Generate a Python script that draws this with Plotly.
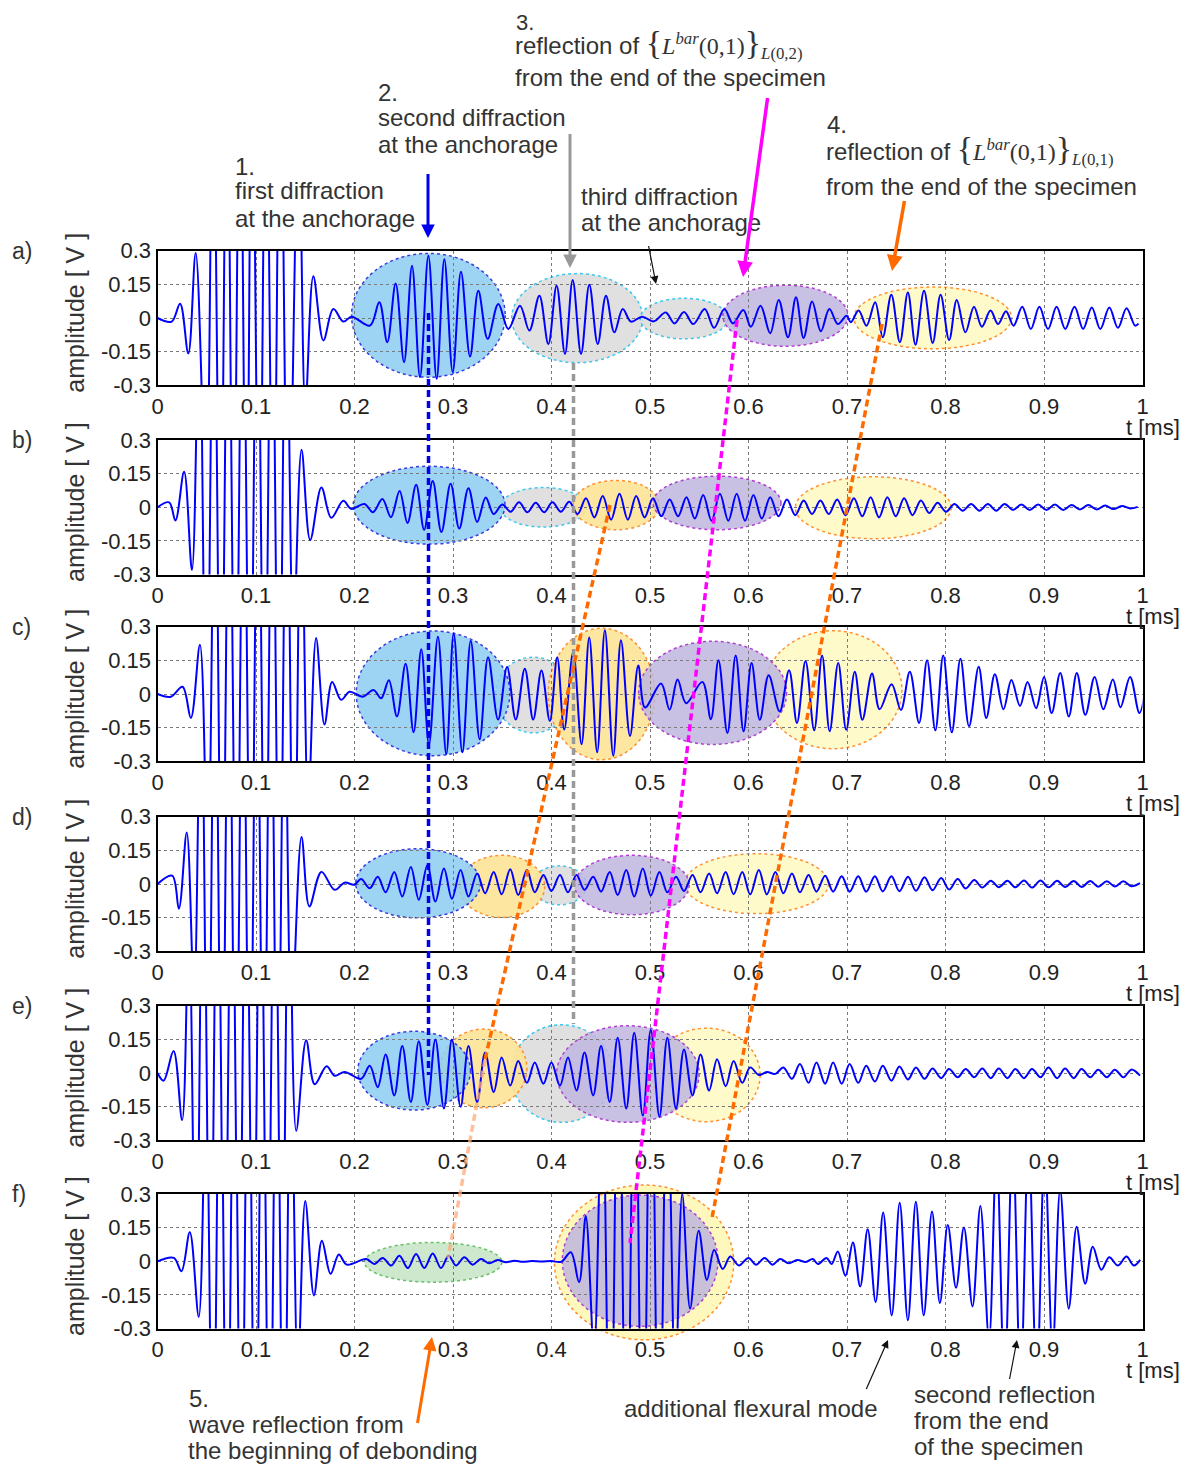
import plotly.graph_objects as go

# ------------------------------------------------------------------ data
# extrema (time in ms, amplitude in V)
t_a = [0.0, 0.0144, 0.0229, 0.0313, 0.0388,
       0.0493, 0.0564, 0.0638, 0.0706, 0.0770, 0.0838, 0.0902, 0.0960, 0.1034, 0.1102, 0.1176, 0.1247, 0.1328, 0.1433, 0.1501,
       0.1582, 0.1684, 0.1785, 0.1887, 0.1971, 0.2157, 0.2252, 0.2333, 0.2418, 0.2503, 0.2584, 0.2665, 0.2750, 0.2834,
       0.2912, 0.2997, 0.3081, 0.3173, 0.3257, 0.3352, 0.3460, 0.3562, 0.3680, 0.3775, 0.3877, 0.3968, 0.4052, 0.4137,
       0.4215, 0.4300, 0.4384, 0.4469, 0.4553, 0.4638, 0.4723, 0.4807, 0.4920, 0.5038, 0.5160, 0.5248, 0.5345, 0.5440,
       0.5555, 0.5650, 0.5755, 0.5842, 0.5947, 0.6024, 0.6122, 0.6220, 0.6307, 0.6401, 0.6482, 0.6559, 0.6646, 0.6734,
       0.6821, 0.6908, 0.6996, 0.7038, 0.7118, 0.7198, 0.7286, 0.7363, 0.7450, 0.7537, 0.7618, 0.7695, 0.7782, 0.7870,
       0.7950, 0.8037, 0.8114, 0.8202, 0.8289, 0.8369, 0.8457, 0.8534, 0.8614, 0.8691, 0.8779, 0.8866, 0.8953, 0.9041,
       0.9128, 0.9216, 0.9310, 0.9397, 0.9485, 0.9572, 0.9663, 0.9751, 0.9838, 0.9925, 0.9960]
v_a = [0.0, -0.016, 0.064, -0.158, 0.29,
       -0.8, 1.1, -1.2, 1.2, -1.2, 1.2, -1.2, 1.2, -1.2, 1.2, -1.2, 1.2, -1.1, 0.9, -0.4,
       0.186, -0.100, 0.040, -0.016, 0.006, -0.034, 0.070, -0.108, 0.154, -0.197, 0.233, -0.264, 0.277, -0.271,
       0.262, -0.241, 0.206, -0.172, 0.121, -0.093, 0.062, -0.049, 0.055, -0.056, 0.099, -0.116, 0.144, -0.160,
       0.169, -0.160, 0.148, -0.116, 0.099, -0.064, 0.040, -0.016, 0.006, -0.015, 0.025, -0.024, 0.027, -0.027,
       0.040, -0.044, 0.040, -0.024, 0.036, -0.039, 0.055, -0.068, 0.080, -0.086, 0.092, -0.089, 0.073, -0.059,
       0.040, -0.027, 0.010, -0.019, 0.033, -0.034, 0.070, -0.086, 0.104, -0.108, 0.114, -0.119, 0.121, -0.111,
       0.104, -0.098, 0.080, -0.064, 0.050, -0.039, 0.033, -0.027, 0.030, -0.034, 0.050, -0.049, 0.050, -0.049,
       0.050, -0.049, 0.050, -0.049, 0.047, -0.049, 0.047, -0.044, 0.043, -0.034, -0.025]

t_b = [0.0, 0.0118, 0.0182, 0.027, 0.035,
       0.0424, 0.0497, 0.0571, 0.0644, 0.0718, 0.0791, 0.0865, 0.0939, 0.1012, 0.1086, 0.1159, 0.1233, 0.1306, 0.138,
       0.1462, 0.155, 0.1664, 0.1764, 0.1886, 0.1966, 0.2101, 0.2188, 0.2283, 0.237, 0.2458, 0.2538, 0.2626, 0.2707,
       0.2794, 0.2882, 0.2976, 0.3063, 0.3157, 0.3245, 0.3332, 0.3413, 0.35, 0.3585, 0.367, 0.3755, 0.384, 0.3925,
       0.401, 0.4095, 0.418, 0.4265, 0.435, 0.4435, 0.452, 0.4605, 0.469, 0.4775, 0.486, 0.4945, 0.503, 0.5115,
       0.52, 0.5285, 0.537, 0.5455, 0.554, 0.5625, 0.571, 0.5795, 0.588, 0.5965, 0.605, 0.6135, 0.622, 0.6305,
       0.639, 0.6475, 0.656, 0.6645, 0.673, 0.6815, 0.69, 0.6985, 0.707, 0.7155, 0.724, 0.7325, 0.741, 0.7495,
       0.758, 0.7665, 0.775, 0.7835, 0.792, 0.8005, 0.809, 0.8175, 0.826, 0.8345, 0.843, 0.8515, 0.86, 0.8685,
       0.877, 0.8855, 0.894, 0.9025, 0.911, 0.9195, 0.928, 0.9365, 0.945, 0.9535, 0.962, 0.9705, 0.979, 0.9875, 0.995]
v_b = [0.0, 0.022, -0.059, 0.158, -0.28,
       0.9, -1.2, 1.2, -1.2, 1.2, -1.2, 1.2, -1.2, 1.2, -1.2, 1.2, -1.2, 1.1, -0.6,
       0.256, -0.146, 0.088, -0.047, 0.029, -0.007, 0.015, -0.022, 0.037, -0.044, 0.073, -0.07, 0.1, -0.1,
       0.117, -0.11, 0.105, -0.095, 0.085, -0.066, 0.044, -0.03, 0.012, -0.02, 0.022, -0.022, 0.02, -0.022,
       0.022, -0.02, 0.025, -0.03, 0.04, -0.045, 0.05, -0.055, 0.06, -0.055, 0.05, -0.045, 0.04, -0.04,
       0.035, -0.04, 0.045, -0.05, 0.055, -0.06, 0.06, -0.06, 0.06, -0.06, 0.055, -0.05, 0.045, -0.04,
       0.035, -0.035, 0.03, -0.03, 0.03, -0.03, 0.035, -0.035, 0.04, -0.04, 0.045, -0.045, 0.045, -0.04,
       0.04, -0.035, 0.03, -0.025, 0.02, -0.02, 0.015, -0.015, 0.015, -0.015, 0.015, -0.015, 0.015, -0.012,
       0.012, -0.012, 0.012, -0.012, 0.012, -0.012, 0.01, -0.01, 0.01, -0.01, 0.008, -0.008, 0.006, -0.005, 0.002]

t_c = [0.0, 0.0136, 0.0254, 0.0339, 0.0431,
       0.051, 0.0583, 0.0656, 0.0729, 0.0802, 0.0875, 0.0948, 0.1021, 0.1094, 0.1166, 0.1239, 0.1312, 0.1385, 0.1458, 0.153,
       0.161, 0.1695, 0.1773, 0.1864, 0.195, 0.2085, 0.2193, 0.2271, 0.2349, 0.2431, 0.2519, 0.26, 0.2678, 0.2756,
       0.2847, 0.2932, 0.3007, 0.3095, 0.318, 0.3271, 0.3356, 0.3458, 0.3549, 0.3637, 0.3729, 0.3814, 0.3898, 0.3983,
       0.4058, 0.4129, 0.422, 0.4305, 0.4383, 0.4464, 0.4542, 0.4627, 0.4705, 0.4797, 0.4881, 0.495, 0.5112, 0.5199,
       0.528, 0.5367, 0.5531, 0.5618, 0.5695, 0.5786, 0.587, 0.595, 0.6031, 0.6115, 0.6205, 0.6317, 0.6412, 0.6492,
       0.6579, 0.6667, 0.6747, 0.6824, 0.6911, 0.6992, 0.7079, 0.7156, 0.7254, 0.7331, 0.7453, 0.7547, 0.7638, 0.7732,
       0.7813, 0.7897, 0.7977, 0.8064, 0.8152, 0.8239, 0.8337, 0.8414, 0.8501, 0.8588, 0.8669, 0.8756, 0.8833, 0.892,
       0.9001, 0.9078, 0.9165, 0.9252, 0.9333, 0.942, 0.9514, 0.9602, 0.9699, 0.9776, 0.9874, 0.9969, 1.005]
v_c = [0.0, -0.012, 0.032, -0.107, 0.22,
       -0.8, 1.1, -1.2, 1.2, -1.2, 1.2, -1.2, 1.2, -1.2, 1.2, -1.2, 1.2, -1.2, 1.0, -0.5,
       0.25, -0.136, 0.054, -0.026, 0.01, -0.012, 0.018, -0.019, 0.061, -0.1, 0.135, -0.17, 0.2, -0.224,
       0.255, -0.268, 0.27, -0.26, 0.237, -0.202, 0.164, -0.114, 0.12, -0.114, 0.113, -0.114, 0.105, -0.12,
       0.164, -0.158, 0.186, -0.224, 0.252, -0.26, 0.284, -0.275, 0.24, -0.187, 0.127, -0.06, 0.047, -0.07,
       0.065, -0.041, 0.054, -0.112, 0.15, -0.174, 0.172, -0.166, 0.138, -0.115, 0.084, -0.078, 0.106, -0.129,
       0.147, -0.162, 0.172, -0.166, 0.138, -0.159, 0.099, -0.115, 0.091, -0.068, 0.044, -0.071, 0.099, -0.129,
       0.15, -0.162, 0.172, -0.171, 0.157, -0.144, 0.121, -0.107, 0.088, -0.068, 0.062, -0.053, 0.054, -0.063,
       0.076, -0.085, 0.094, -0.1, 0.094, -0.093, 0.076, -0.068, 0.065, -0.059, 0.076, -0.085, 0.091]

t_d = [0.0, 0.0149, 0.0217, 0.0297, 0.0371,
       0.0442, 0.0512, 0.0583, 0.0654, 0.0724, 0.0795, 0.0866, 0.0937, 0.1007, 0.1078, 0.1149, 0.1219, 0.129, 0.1361,
       0.1462, 0.1542, 0.1664, 0.1798, 0.1899, 0.2, 0.2067, 0.2155, 0.2236, 0.2316, 0.2404, 0.2485, 0.2572, 0.2653,
       0.274, 0.2821, 0.2908, 0.2989, 0.3077, 0.3157, 0.3245, 0.3326, 0.3413, 0.3494, 0.3581, 0.3662, 0.375, 0.383,
       0.3918, 0.3999, 0.4086, 0.4167, 0.4254, 0.4335, 0.4423, 0.4503, 0.4591, 0.4672, 0.4759, 0.484, 0.4927, 0.5008,
       0.5096, 0.5176, 0.5264, 0.5345, 0.5432, 0.5513, 0.56, 0.5681, 0.5768, 0.5849, 0.5937, 0.6017, 0.6105, 0.6186,
       0.6273, 0.6354, 0.6441, 0.6522, 0.661, 0.669, 0.6778, 0.6859, 0.6946, 0.7027, 0.7114, 0.7195, 0.7283, 0.7363,
       0.7451, 0.7532, 0.7619, 0.77, 0.7787, 0.7868, 0.7956, 0.8036, 0.8124, 0.8205, 0.8292, 0.8373, 0.846, 0.8541,
       0.8629, 0.8709, 0.8797, 0.8878, 0.8965, 0.9046, 0.9133, 0.9214, 0.9302, 0.9382, 0.947, 0.955, 0.9638, 0.9719,
       0.9806, 0.9887, 0.9974]
v_d = [0.0, 0.037, -0.11, 0.23, -0.5,
       1.0, -1.2, 1.2, -1.2, 1.2, -1.2, 1.2, -1.2, 1.2, -1.2, 1.2, -1.2, 1.0, -0.6,
       0.209, -0.1, 0.054, -0.026, 0.006, -0.003, 0.022, -0.019, 0.032, -0.037, 0.054, -0.056, 0.076, -0.07,
       0.084, -0.078, 0.069, -0.066, 0.062, -0.056, 0.047, -0.041, 0.054, -0.046, 0.066, -0.049, 0.062, -0.037,
       0.04, -0.031, 0.04, -0.037, 0.04, -0.026, 0.032, -0.034, 0.054, -0.049, 0.062, -0.056, 0.069, -0.051,
       0.054, -0.037, 0.032, -0.031, 0.04, -0.037, 0.047, -0.041, 0.054, -0.046, 0.054, -0.046, 0.062, -0.046,
       0.054, -0.041, 0.047, -0.037, 0.04, -0.034, 0.037, -0.034, 0.035, -0.034, 0.035, -0.034, 0.035, -0.033,
       0.034, -0.032, 0.032, -0.03, 0.03, -0.028, 0.027, -0.025, 0.022, -0.02, 0.018, -0.016, 0.015, -0.014,
       0.014, -0.015, 0.016, -0.016, 0.016, -0.015, 0.014, -0.013, 0.013, -0.013, 0.013, -0.012, 0.012, -0.011,
       0.012, -0.01, 0.004]

t_e = [0.0, 0.0062, 0.0163, 0.025,
       0.0318, 0.0391, 0.0463, 0.0536, 0.0609, 0.0681, 0.0754, 0.0827, 0.0899, 0.0972, 0.1045, 0.1117, 0.119, 0.1263, 0.1335,
       0.1408, 0.1509, 0.1596, 0.1717, 0.1798, 0.19, 0.2067, 0.2155, 0.2236, 0.2316, 0.2404, 0.2485, 0.2572, 0.2653,
       0.274, 0.2821, 0.2908, 0.2989, 0.3077, 0.3157, 0.3245, 0.3326, 0.3413, 0.3494, 0.3581, 0.3662, 0.375, 0.383,
       0.3918, 0.3999, 0.4086, 0.4167, 0.4254, 0.4335, 0.4423, 0.4503, 0.4591, 0.4672, 0.4759, 0.484, 0.4927, 0.5008,
       0.5096, 0.5176, 0.5264, 0.5345, 0.5432, 0.5513, 0.56, 0.5681, 0.5768, 0.5849, 0.5937, 0.6017, 0.6105, 0.6186,
       0.6273, 0.6354, 0.6441, 0.6522, 0.661, 0.669, 0.6778, 0.6859, 0.6946, 0.7027, 0.7114, 0.7195, 0.7283, 0.7363,
       0.7451, 0.7532, 0.7619, 0.77, 0.7787, 0.7868, 0.7956, 0.8036, 0.8124, 0.8205, 0.8292, 0.8373, 0.846, 0.8541,
       0.8629, 0.8709, 0.8797, 0.8878, 0.8965, 0.9046, 0.9133, 0.9214, 0.9302, 0.9382, 0.947, 0.955, 0.9638, 0.9719,
       0.9806, 0.9887, 0.9974]
v_e = [0.0, -0.034, 0.098, -0.21,
       0.7, -1.1, 1.2, -1.2, 1.2, -1.2, 1.2, -1.2, 1.2, -1.2, 1.2, -1.2, 1.2, -1.2, 1.0,
       -0.258, 0.146, -0.05, 0.03, -0.012, 0.005, -0.026, 0.032, -0.063, 0.083, -0.1, 0.12, -0.129, 0.142,
       -0.143, 0.149, -0.158, 0.149, -0.151, 0.12, -0.129, 0.091, -0.085, 0.069, -0.056, 0.054, -0.044, 0.047,
       -0.048, 0.047, -0.056, 0.069, -0.078, 0.091, -0.1, 0.12, -0.129, 0.157, -0.158, 0.179, -0.19, 0.193,
       -0.195, 0.157, -0.158, 0.105, -0.1, 0.083, -0.078, 0.061, -0.059, 0.054, -0.044, 0.025, -0.009, 0.004,
       -0.004, 0.025, -0.026, 0.04, -0.044, 0.047, -0.048, 0.047, -0.048, 0.04, -0.044, 0.032, -0.038, 0.032,
       -0.034, 0.029, -0.029, 0.025, -0.026, 0.02, -0.023, 0.018, -0.019, 0.018, -0.019, 0.02, -0.023, 0.02,
       -0.023, 0.018, -0.023, 0.018, -0.019, 0.025, -0.023, 0.02, -0.023, 0.018, -0.019, 0.015, -0.019, 0.015,
       -0.019, 0.015, -0.012]

t_f = [0.0, 0.0166, 0.0243, 0.0328, 0.0419,
       0.0491, 0.0563, 0.0635, 0.0707, 0.0779, 0.085, 0.0922, 0.0994, 0.1066, 0.1138, 0.121, 0.1282, 0.1354, 0.1425,
       0.150, 0.1588, 0.1669, 0.1757, 0.1841, 0.1922, 0.2118, 0.2203, 0.2287, 0.2372, 0.2456, 0.2541, 0.2625, 0.2709,
       0.2794, 0.2878, 0.2956, 0.303, 0.3115, 0.3199, 0.3284, 0.3368, 0.3453, 0.3537, 0.3622, 0.3706, 0.38, 0.39,
       0.40, 0.41, 0.4196, 0.428, 0.4348, 0.4432, 0.4515, 0.4597, 0.468, 0.4762, 0.4845, 0.4927, 0.501, 0.5092,
       0.5175, 0.5257, 0.5327, 0.5407, 0.5494, 0.5578, 0.5651, 0.5738, 0.5815, 0.5902, 0.6, 0.6077, 0.6164, 0.6244,
       0.6321, 0.6408, 0.6495, 0.6582, 0.6652, 0.6705, 0.6792, 0.6844, 0.6907, 0.6984, 0.706, 0.7134, 0.721, 0.7291,
       0.7367, 0.7454, 0.7535, 0.7618, 0.7699, 0.7779, 0.7863, 0.7943, 0.8023, 0.8107, 0.8187, 0.8274, 0.8354, 0.8442,
       0.8518, 0.8599, 0.8682, 0.8762, 0.8843, 0.8926, 0.9007, 0.9087, 0.9164, 0.9251, 0.9331, 0.9418, 0.9495, 0.9582,
       0.9662, 0.975, 0.9837, 0.9913, 0.9976]
v_f = [0.0, 0.015, -0.044, 0.129, -0.248,
       0.8, -1.1, 1.2, -1.2, 1.2, -1.2, 1.2, -1.2, 1.2, -1.2, 1.2, -1.2, 1.0, -0.5,
       0.269, -0.152, 0.092, -0.056, 0.03, -0.015, 0.01, -0.012, 0.015, -0.019, 0.025, -0.03, 0.032, -0.03,
       0.035, -0.03, 0.025, -0.019, 0.018, -0.015, 0.01, -0.009, 0.006, -0.004, 0.003, -0.002, 0.001, -0.001,
       0.001, -0.002, 0.04, -0.093, 0.202, -0.4, 0.8, -1.1, 1.2, -1.2, 1.2, -1.2, 1.2, -1.1,
       0.9, -0.55, 0.3, -0.211, 0.136, -0.083, 0.05, -0.034, 0.021, -0.019, 0.015, -0.015, 0.015, -0.015,
       0.01, -0.009, 0.006, -0.003, 0.01, -0.012, 0.015, -0.012, 0.044, -0.064, 0.084, -0.112, 0.143, -0.182,
       0.217, -0.241, 0.261, -0.263, 0.266, -0.241, 0.222, -0.186, 0.162, -0.118, 0.151, -0.201, 0.247, -0.35,
       0.5, -0.55, 0.55, -0.55, 0.55, -0.55, 0.5, -0.4, 0.32, -0.211, 0.154, -0.1, 0.065, -0.038,
       0.018, -0.019, 0.021, -0.019, 0.006]

x_ticks = [0, 0.1, 0.2, 0.3, 0.4, 0.5, 0.6, 0.7, 0.8, 0.9, 1.0]
x_tick_text = ["0", "0.1", "0.2", "0.3", "0.4", "0.5", "0.6", "0.7", "0.8", "0.9", "1"]
y_ticks = [-0.3, -0.15, 0, 0.15, 0.3]
y_tick_text = ["-0.3", "-0.15", "0", "0.15", "0.3"]
panel_labels = ["a)", "b)", "c)", "d)", "e)", "f)"]
series = [(t_a, v_a), (t_b, v_b), (t_c, v_c), (t_d, v_d), (t_e, v_e), (t_f, v_f)]

# highlighted wave packets: (panel, kind, t_start, t_end, v_low, v_high)
packets = [
    (0, "gray", 0.3596, 0.4926, -0.199, 0.198), (0, "gray", 0.490, 0.579, -0.093, 0.088),
    (0, "blue", 0.197, 0.353, -0.264, 0.288), (0, "yellow", 0.707, 0.867, -0.137, 0.138),
    (0, "purple", 0.574, 0.701, -0.126, 0.146),
    (1, "gray", 0.348, 0.4355, -0.088, 0.088), (1, "orange", 0.422, 0.5095, -0.10, 0.12),
    (1, "blue", 0.1987, 0.3528, -0.164, 0.183), (1, "yellow", 0.6475, 0.8057, -0.14, 0.136),
    (1, "purple", 0.503, 0.633, -0.10, 0.139),
    (2, "gray", 0.343, 0.42, -0.173, 0.164), (2, "orange", 0.3967, 0.505, -0.293, 0.293),
    (2, "blue", 0.2017, 0.3576, -0.275, 0.281), (2, "yellow", 0.616, 0.7558, -0.244, 0.282),
    (2, "purple", 0.4885, 0.6387, -0.225, 0.235),
    (3, "gray", 0.3804, 0.4355, -0.093, 0.081), (3, "orange", 0.3063, 0.3931, -0.149, 0.128),
    (3, "blue", 0.2013, 0.3279, -0.151, 0.157), (3, "yellow", 0.5351, 0.6812, -0.132, 0.135),
    (3, "purple", 0.4234, 0.5398, -0.137, 0.128),
    (4, "gray", 0.3581, 0.4624, -0.22, 0.215), (4, "orange", 0.2875, 0.375, -0.155, 0.196),
    (4, "yellow", 0.5028, 0.6118, -0.217, 0.20), (4, "blue", 0.2034, 0.3178, -0.165, 0.186),
    (4, "purple", 0.4052, 0.5499, -0.22, 0.211),
    (5, "green", 0.2101, 0.3497, -0.093, 0.084), (5, "yellow_big", 0.403, 0.585, -0.35, 0.34),
    (5, "purple", 0.411, 0.569, -0.29, 0.295),
]

# ------------------------------------------------------------------ layout geometry
# screen pixel positions; the page body adds an 8 px offset, so the figure is
# made 8 px smaller and every pixel position is shifted accordingly
W, H = 1191, 1465
OFF = 8
FW, FH = W - OFF, H - OFF
LEFT, RIGHT = 157.5, 1142.5
TOPS = [250.7, 440.0, 626.7, 816.7, 1005.7, 1194.0]
PH = 134.6


def fx(p):
    return (p - OFF) / FW


def fy(p):
    return 1 - (p - OFF) / FH


def data_to_px(i, t, v):
    return LEFT + t * (RIGHT - LEFT), TOPS[i] + (0.3 - v) / 0.6 * PH


STYLE = {
    "blue": ("rgba(140,205,242,0.85)", "#3a3adf"),
    "gray": ("rgba(218,218,218,0.85)", "#3cc8ee"),
    "purple": ("rgba(190,182,222,0.85)", "#b040d0"),
    "yellow": ("rgba(255,250,195,0.9)", "#ff9030"),
    "yellow_big": ("rgba(255,248,185,0.95)", "#ff9030"),
    "orange": ("rgba(253,228,150,0.9)", "#ff9030"),
    "green": ("rgba(200,230,200,0.9)", "#66c266"),
}

FONT = "Liberation Sans, Arial, sans-serif"
TXT = "#333333"

fig = go.Figure()
axes = {}
for i, (t, v) in enumerate(series):
    n = "" if i == 0 else str(i + 1)
    fig.add_trace(go.Scatter(
        x=t, y=v, mode="lines", xaxis="x" + n, yaxis="y" + n,
        line=dict(color="#0000ff", width=2, shape="spline", smoothing=1.0),
        showlegend=False, hoverinfo="skip"))
    common = dict(showgrid=True, gridcolor="#7a7a7a", griddash="dot", gridwidth=1,
                  zeroline=False, showline=True, linecolor="black", linewidth=2,
                  mirror=True, ticks="", automargin=False,
                  tickfont=dict(family=FONT, size=22, color="#222"))
    axes["xaxis" + n] = dict(domain=[fx(LEFT), fx(RIGHT)], anchor="y" + n, range=[0, 1],
                             tickvals=x_ticks, ticktext=x_tick_text, **common)
    axes["yaxis" + n] = dict(domain=[fy(TOPS[i] + PH), fy(TOPS[i])], anchor="x" + n,
                             range=[-0.3, 0.3], tickvals=y_ticks, ticktext=y_tick_text, **common)

shapes = []
for (i, kind, t0, t1, v0, v1) in packets:
    fill, edge = STYLE[kind]
    n = "" if i == 0 else str(i + 1)
    if kind == "yellow_big":
        xa, ya = data_to_px(i, t0, v1)
        xb, yb = data_to_px(i, t1, v0)
        shapes.append(dict(type="circle", xref="paper", yref="paper",
                           x0=fx(xa), x1=fx(xb), y0=fy(yb), y1=fy(ya),
                           fillcolor=fill, line=dict(color=edge, width=1.5, dash="dot"), layer="below"))
    else:
        shapes.append(dict(type="circle", xref="x" + n, yref="y" + n,
                           x0=t0, x1=t1, y0=v0, y1=v1,
                           fillcolor=fill, line=dict(color=edge, width=1.5, dash="dot"), layer="below"))

# dashed connectors across panels (pixel positions of the overlay)
connectors = [
    ((428.5, 313), (428.5, 1075), "#0000ee"),
    ((573.5, 363), (573.5, 1024), "#999999"),
    ((737, 320), (630, 1243), "#ff00ff"),
    ((882, 324), (712, 1218), "#ff6a00"),
    ((610, 505), (485, 1060), "#ff6a00"),
    ((485, 1060), (448, 1258), "rgba(255,170,120,0.75)"),
]
for (a, b, col) in connectors:
    shapes.append(dict(type="line", xref="paper", yref="paper",
                       x0=fx(a[0]), y0=fy(a[1]), x1=fx(b[0]), y1=fy(b[1]),
                       line=dict(color=col, width=3.5, dash="7px,4px"), layer="above"))

annotations = []


def text(x, y, s, size=24, anchor="left", color=TXT, angle=0):
    annotations.append(dict(x=fx(x), y=fy(y), xref="paper", yref="paper", text=s,
                            showarrow=False, xanchor=anchor, yanchor="middle", textangle=angle,
                            font=dict(family=FONT, size=size, color=color)))


def arrow(tail, head, color, width):
    annotations.append(dict(x=fx(head[0]), y=fy(head[1]), xref="paper", yref="paper",
                            ax=tail[0] - head[0], ay=tail[1] - head[1], text=" ",
                            font=dict(size=2),
                            showarrow=True, arrowhead=2, arrowsize=0.9 if width > 2 else 1.3,
                            arrowwidth=width, arrowcolor=color))


for i in range(6):
    top = TOPS[i]
    text(10, top, panel_labels[i], size=23, anchor="left")
    text(75, top + 62, "amplitude [ V ]", size=25, anchor="center", angle=-90)
    text(1153, top + PH + 42, "t [ms]", size=22, anchor="center", color="#222")

SERIF = "font-family:Liberation Serif"
math_a = ("reflection of <span style=\"" + SERIF + ";font-size:34px\">{</span>"
          "<span style=\"" + SERIF + "\"><i>L</i><sup><i>bar</i></sup>(0,1)</span>"
          "<span style=\"" + SERIF + ";font-size:34px\">}</span>"
          "<sub><span style=\"" + SERIF + "\"><i>L</i>(0,2)</span></sub>")
math_b = ("reflection of <span style=\"" + SERIF + ";font-size:34px\">{</span>"
          "<span style=\"" + SERIF + "\"><i>L</i><sup><i>bar</i></sup>(0,1)</span>"
          "<span style=\"" + SERIF + ";font-size:34px\">}</span>"
          "<sub><span style=\"" + SERIF + "\"><i>L</i>(0,1)</span></sub>")

text(233, 166, "1.")
text(233, 191, "first diffraction")
text(233, 218, "at the anchorage")
text(376, 93, "2.")
text(376, 118, "second diffraction")
text(376, 145, "at the anchorage")
text(514, 22, "3.", size=22)
text(513, 44, math_a)
text(513, 78, "from the end of the specimen")
text(825, 125, "4.")
text(824, 150, math_b)
text(824, 186, "from the end of the specimen")
text(579, 196, "third diffraction")
text(579, 223, "at the anchorage")
text(187, 1398, "5.")
text(186, 1424, "wave reflection from")
text(186, 1450, "the beginning of debonding")
text(622, 1408, "additional flexural mode")
text(912, 1394, "second reflection")
text(912, 1420, "from the end")
text(912, 1446, "of the specimen")

arrow((428, 171), (428, 238), "#0000ee", 3)
arrow((570, 131), (570, 268), "#999999", 3)
arrow((768, 95), (743, 277), "#ff00ff", 3.5)
arrow((905, 198), (892, 271), "#ff6a00", 3.5)
arrow((417, 1426), (432, 1337), "#ff6a00", 3)
arrow((648, 243), (656, 284), "#111111", 1.2)
arrow((865, 1392), (888, 1340), "#111111", 1.2)
arrow((1009, 1382), (1017, 1340), "#111111", 1.2)

fig.update_layout(
    width=FW, height=FH, margin=dict(l=0, r=0, t=0, b=0, pad=0, autoexpand=False),
    paper_bgcolor="white", plot_bgcolor="rgba(0,0,0,0)",
    shapes=shapes, annotations=annotations, showlegend=False,
    **axes)

fig.write_html("out.html")
